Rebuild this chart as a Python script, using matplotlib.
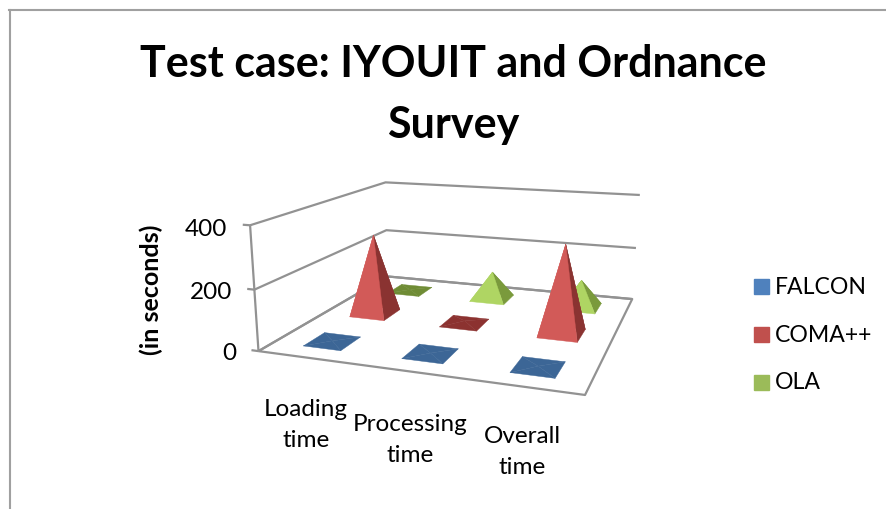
import numpy as np
import matplotlib
matplotlib.use('Agg')
import matplotlib.pyplot as plt
from matplotlib.patches import Rectangle
from mpl_toolkits.mplot3d.art3d import Poly3DCollection, Line3DCollection

plt.rcParams['font.family'] = ['Lato', 'DejaVu Sans']

categories = ['Loading\ntime', 'Processing\ntime', 'Overall\ntime']
series = ['FALCON', 'COMA++', 'OLA']
falcon = [2, 2, 3]
coma = [288, 8, 305]
ola = [3, 104, 102]
zticks = [0, 200, 400]

legend_colors = ['#4F81BD', '#C0504D', '#9BBB59']
light = ['#3F6A9E', '#D25A58', '#AFD563']
dark = ['#3A628F', '#8A3331', '#7A9A3C']
flat = ['#3C6696', '#8C3230', '#6F8C35']
grey = '#929292'

W, H = 886, 510

# camera fitted to where the box corners fall in the picture (pixels)
box_pts = [(0, 0, 0), (3, 0, 0), (3, 3, 0), (0, 3, 0),
           (0, 0, 400), (0, 3, 400), (3, 3, 400),
           (0, 0, 200), (0, 3, 200), (3, 3, 200)]
box_px = [(258, 352), (585, 396), (632, 300), (388, 277),
          (251, 226), (385, 183), (640, 196),
          (254, 291), (386, 232), (636, 249)]


def fit_camera():
    rows = []
    for (x, y, z), (u, v) in zip(box_pts, box_px):
        v = H - v
        p = [x / 3, y / 3, z / 400, 1]
        rows.append(p + [0, 0, 0, 0] + [-u * c for c in p])
        rows.append([0, 0, 0, 0] + p + [-v * c for c in p])
    cam = np.linalg.svd(np.array(rows, float))[2][-1].reshape(3, 4)
    cam = cam @ np.diag([1 / 3, 1 / 3, 1 / 400, 1])
    if cam[2, 3] < 0:
        cam = -cam
    return cam


camera = fit_camera()
depth_row = np.linalg.svd(camera)[2][-1]
# keep depth/w small, mplot3d does not like it far outside -1..1
corners = np.array([list(p) + [1] for p in box_pts], float)
depth_row = depth_row * 0.5 / np.max(np.abs((corners @ depth_row) / (corners @ camera[2])))

fig = plt.figure(figsize=(W / 100, H / 100), dpi=100)
ax = fig.add_axes([0, 0, 1, 1], projection='3d')
ax.set_axis_off()
ax.xaxis.set_visible(False)
ax.yaxis.set_visible(False)
ax.zaxis.set_visible(False)
ax.computed_zorder = False
ax.patch.set_alpha(0)


def pixel_proj():
    to_ax = ax.transData.inverted().get_matrix()
    flat_cam = to_ax @ camera
    return np.vstack([flat_cam[0], flat_cam[1], depth_row, flat_cam[2]])


ax.get_proj = pixel_proj


def frame_line(xs, ys, zs):
    pts = list(zip(xs, ys, zs))
    lc = Line3DCollection([pts], colors=grey, linewidths=1.6, zorder=1)
    lc.set_clip_on(False)
    ax.add_collection3d(lc)


# floor and walls
frame_line([0, 3, 3, 0, 0], [0, 0, 3, 3, 0], [0] * 5)
frame_line([0, 0], [0, 0], [0, 400])
for z in zticks:
    frame_line([0, 0, 3], [0, 3, 3], [z, z, z])
    frame_line([0, -0.075], [0, 0], [z, z])
    ax.text(-0.24, 0, z - 15, str(z), ha='right', va='center', fontsize=17.5, zorder=30)


def pyramid(xc, yc, h, i, order):
    hx, hy = 0.195, 0.215
    base = [(xc - hx, yc - hy, 0), (xc + hx, yc - hy, 0),
            (xc + hx, yc + hy, 0), (xc - hx, yc + hy, 0)]
    apex = (xc, yc, h)
    faces = [[base[2], base[3], apex], [base[3], base[0], apex],
             [base[1], base[2], apex], [base[0], base[1], apex]]
    if h < 20:
        cols = [flat[i]] * 4
    else:
        cols = [dark[i], light[i], dark[i], light[i]]
    for f, c in zip(faces, cols):
        order += 1
        poly = Poly3DCollection([f], facecolors=c, edgecolors=c, linewidths=0.3, zorder=order)
        poly.set_clip_on(False)
        ax.add_collection3d(poly)
    return order


order = 2
for i in [2, 1, 0]:
    vals = [falcon, coma, ola][i]
    for j in range(3):
        order = pyramid(j + 0.5, i + 0.5, vals[j], i, order)

fig.text(453 / W, 1 - 64 / H, 'Test case: IYOUIT and Ordnance', ha='center', va='center', fontsize=31, fontweight='bold')
fig.text(453 / W, 1 - 125 / H, 'Survey', ha='center', va='center', fontsize=31, fontweight='bold')
fig.text(151 / W, 1 - 290 / H, '(in seconds)', rotation=90, ha='center', va='center', fontsize=18, fontweight='bold')

for label, x, y in zip(categories, [306, 410, 522], [425, 440, 452]):
    fig.text(x / W, 1 - y / H, label, ha='center', va='center', fontsize=17.5, linespacing=1.6)

for name, c, y in zip(series, legend_colors, [287, 335, 383]):
    fig.add_artist(Rectangle((754 / W, 1 - (y + 8) / H), 15 / W, 15 / H, transform=fig.transFigure, color=c))
    fig.text(775 / W, 1 - y / H, name, ha='left', va='center', fontsize=16.6)

fig.add_artist(plt.Line2D([9.5 / W, 9.5 / W], [0, 1 - 11 / H], color='#A0A0A0', lw=1.5))
fig.add_artist(plt.Line2D([9 / W, 1], [1 - 11 / H, 1 - 11 / H], color='#A0A0A0', lw=1.5))
fig.savefig('out.png', dpi=100)
